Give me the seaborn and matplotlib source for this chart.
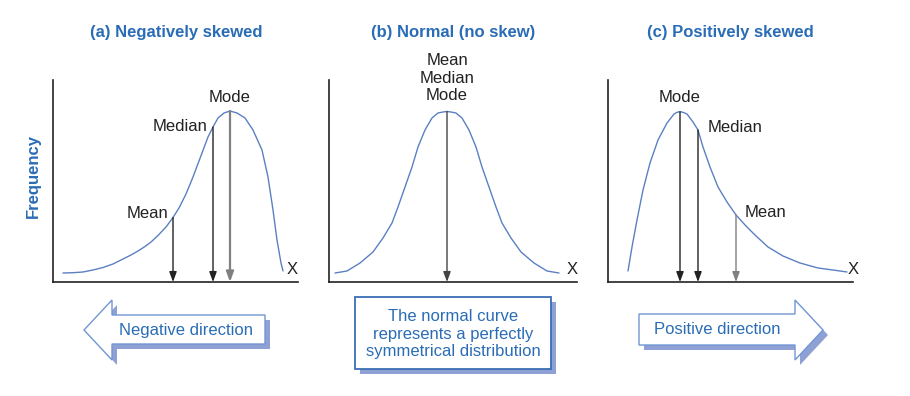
import matplotlib
matplotlib.use("Agg")
import matplotlib.pyplot as plt
import matplotlib.patches as mpatches
import seaborn as sns

# curve samples (x, frequency), one unit ~ one pixel
neg_x = [10, 20, 30, 40, 50, 60, 70, 78, 85, 92, 98, 105, 113, 120, 126, 133, 140, 149, 155,
         160, 165, 171, 177, 184, 192, 200, 209, 215, 220, 224, 228, 230]
neg_y = [9, 9.3, 10, 12, 14.5, 18, 23, 27, 31, 35.5, 40, 46.5, 55, 64.5, 74, 88, 105, 129, 145,
         155, 164, 169, 171, 169, 164, 152, 132, 105, 72, 42, 19, 11]
norm_x = [6, 18, 31, 44, 54, 63, 69, 76, 83, 89, 96, 103, 109, 114, 118, 122, 127, 133, 140,
          147, 153, 160, 167, 173, 182, 192, 205, 218, 230]
norm_y = [9, 11, 19, 30, 44, 59, 75, 95, 115, 135, 152, 164, 169, 170, 170.5, 170, 169, 164,
          152, 135, 115, 95, 75, 59, 44, 30, 19, 11, 9]
pos_x = [20, 24, 29, 35, 42, 50, 59, 66, 69, 72, 75, 79, 85, 90, 95, 102, 110, 119, 128, 138,
         147, 160, 175, 192, 210, 225, 239]
pos_y = [11, 35, 62, 92, 119, 142, 159, 168, 169.7, 170.3, 169.7, 168, 160, 152, 135, 115, 95,
         80, 67, 56, 47, 35, 26, 19, 14, 12, 10]

# mean / median / mode positions and curve heights
neg_stats = ["Mean", "Median", "Mode"]
neg_stat_x = [120, 160, 177]
neg_stat_y = [64.5, 155, 171]
norm_stat_x = [118]
norm_stat_y = [170.5]
pos_stats = ["Mode", "Median", "Mean"]
pos_stat_x = [72, 90, 128]
pos_stat_y = [170.3, 152, 67]

titles = ["(a) Negatively skewed", "(b) Normal (no skew)", "(c) Positively skewed"]

sns.set_style("white")
plt.rcParams["font.family"] = ["Liberation Sans", "DejaVu Sans"]

BLUE = "#2a6cb5"
CURVE = "#5b80c2"
SHADOW = "#8fa1d4"
W, H = 910, 396

fig = plt.figure(figsize=(9.1, 3.96), dpi=100)


def make_axes(left, width, bottom=282, top=80):
    ax = fig.add_axes([left / W, 1 - bottom / H, width / W, (bottom - top) / H])
    ax.set_xlim(0, width)
    ax.set_ylim(0, bottom - top)
    sns.despine(ax=ax)
    for s in ["left", "bottom"]:
        ax.spines[s].set_color("#222222")
        ax.spines[s].set_linewidth(1.2)
    ax.set_xticks([])
    ax.set_yticks([])
    ax.patch.set_alpha(0)
    return ax


def down_arrow(ax, x, y, color="#222222", lw=1.0):
    ax.annotate("", xy=(x, 0), xytext=(x, y),
                arrowprops=dict(arrowstyle="-|>,head_length=0.6,head_width=0.22",
                                color=color, lw=lw, shrinkA=0, shrinkB=0),
                annotation_clip=False)


axes = [make_axes(53, 245), make_axes(329, 248), make_axes(608, 245)]

for ax, xs, ys in zip(axes, [neg_x, norm_x, pos_x], [neg_y, norm_y, pos_y]):
    sns.lineplot(x=xs, y=ys, ax=ax, color=CURVE, lw=1.0, sort=False)
    ax.set_xlabel("")
    ax.set_ylabel("")

# (a) negatively skewed
a = axes[0]
for name, x, y in zip(neg_stats, neg_stat_x, neg_stat_y):
    down_arrow(a, x, y, color="#808080" if name == "Mode" else "#222222",
               lw=1.6 if name == "Mode" else 1.0)
a.text(neg_stat_x[2], 185, "Mode", ha="center", va="center", fontsize=12, color="#222222")
a.text(neg_stat_x[1] - 5, 156, "Median", ha="right", va="center", fontsize=12, color="#222222")
a.text(neg_stat_x[0] - 5, 69, "Mean", ha="right", va="center", fontsize=12, color="#222222")
a.text(234, 12, "X", ha="left", va="center", fontsize=12, color="#222222")

# (b) normal
b = axes[1]
down_arrow(b, norm_stat_x[0], norm_stat_y[0], color="#444444")
b.text(norm_stat_x[0], 204, "Mean\nMedian\nMode", ha="center", va="center",
       fontsize=12, color="#222222", linespacing=1.2)
b.text(238, 12, "X", ha="left", va="center", fontsize=12, color="#222222")

# (c) positively skewed
c = axes[2]
for name, x, y in zip(pos_stats, pos_stat_x, pos_stat_y):
    down_arrow(c, x, y, color="#808080" if name == "Mean" else "#222222")
c.text(pos_stat_x[0], 185, "Mode", ha="center", va="center", fontsize=12, color="#222222")
c.text(pos_stat_x[1] + 10, 155, "Median", ha="left", va="center", fontsize=12, color="#222222")
c.text(pos_stat_x[2] + 9, 70, "Mean", ha="left", va="center", fontsize=12, color="#222222")
c.text(240, 12, "X", ha="left", va="center", fontsize=12, color="#222222")

# titles and y label
for t, cx in zip(titles, [176, 453, 730]):
    fig.text(cx / W, 1 - 32 / H, t, ha="center", va="center", fontsize=12,
             fontweight="bold", color=BLUE)
fig.text(33 / W, 1 - 176 / H, "Frequency", rotation=90, ha="center", va="center",
         fontsize=12, fontweight="bold", color=BLUE)

# overlay in pixel coordinates for the direction arrows and the note box
ov = fig.add_axes([0, 0, 1, 1])
ov.set_xlim(0, W)
ov.set_ylim(H, 0)
ov.axis("off")


def shaded_poly(pts, edge, lw):
    sh = [(x + 5, y + 5) for x, y in pts]
    ov.add_patch(mpatches.Polygon(sh, closed=True, facecolor=SHADOW, edgecolor="none"))
    ov.add_patch(mpatches.Polygon(pts, closed=True, facecolor="white", edgecolor=edge, lw=lw))


shaded_poly([(84, 330), (112, 300), (112, 315), (265, 315), (265, 344), (112, 344), (112, 360)],
            "#7196d4", 1.0)
ov.text(186, 330, "Negative direction", ha="center", va="center", fontsize=12, color=BLUE)

shaded_poly([(639, 314), (795, 314), (795, 300), (823, 330), (795, 360), (795, 345), (639, 345)],
            "#7196d4", 1.0)
ov.text(717, 330, "Positive direction", ha="center", va="center", fontsize=12, color=BLUE)

shaded_poly([(355, 297), (551, 297), (551, 369), (355, 369)], "#3a6db5", 1.3)
ov.text(453, 334, "The normal curve\nrepresents a perfectly\nsymmetrical distribution",
        ha="center", va="center", fontsize=12, color=BLUE, linespacing=1.2)

fig.savefig("out.png", dpi=100)
